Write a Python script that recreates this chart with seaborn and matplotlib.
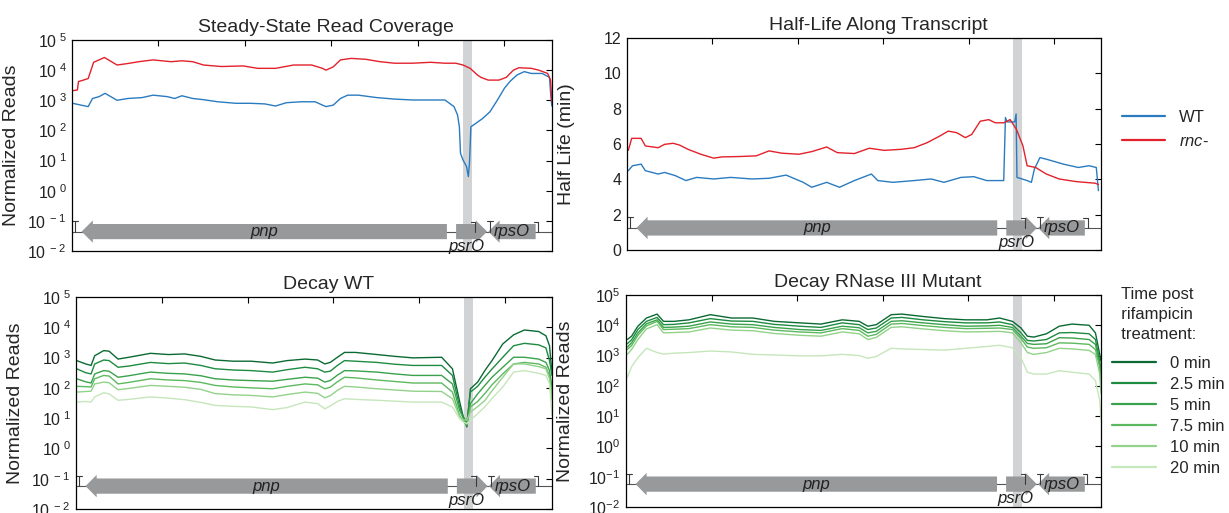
import numpy as np
import pandas as pd
import matplotlib
matplotlib.use("Agg")
import matplotlib.pyplot as plt
import matplotlib.transforms as mtrans
from matplotlib.patches import Polygon
from matplotlib.ticker import NullLocator
import seaborn as sns

sns.set_style("white")
plt.rcParams['font.family'] = ['Liberation Sans', 'DejaVu Sans']
plt.rcParams['mathtext.fontset'] = 'custom'
plt.rcParams['mathtext.rm'] = 'Liberation Sans'
plt.rcParams['mathtext.it'] = 'Liberation Sans:italic'
plt.rcParams['axes.edgecolor'] = 'black'
plt.rcParams['axes.linewidth'] = 0.9

# ---------------- data (positions in nt, reads as log10 values) ----------------
# Steady-state coverage
pos_cov_wt = [8, 104, 187, 237, 312, 383, 521, 646, 812, 937, 1104, 1187, 1271, 1396, 1521, 1687,
              1896, 2062, 2229, 2354, 2479, 2646, 2812, 2896, 2937, 3021, 3104, 3187, 3312, 3521,
              3729, 3937, 4146, 4312, 4417, 4458, 4479, 4492, 4521, 4562, 4583, 4596, 4612, 4667,
              4750, 4833, 4917, 5000, 5062, 5146, 5229, 5312, 5437, 5521, 5537, 5548]
cov_wt_log = [2.90, 2.84, 2.79, 3.06, 3.12, 3.23, 3.00, 3.06, 3.09, 3.17, 3.12, 3.06, 3.15, 3.06, 3.02, 2.95,
              2.90, 2.90, 2.88, 2.81, 2.92, 2.95, 2.95, 2.84, 2.79, 2.84, 3.06, 3.17, 3.17, 3.09,
              3.04, 3.01, 3.01, 3.01, 2.79, 2.51, 2.12, 1.24, 1.02, 0.80, 0.47, 0.92, 2.12, 2.23,
              2.40, 2.62, 3.00, 3.40, 3.62, 3.84, 3.95, 3.89, 3.89, 3.76, 3.12, 2.81]
pos_cov_rnc = [8, 62, 75, 187, 250, 375, 521, 646, 771, 937, 1146, 1271, 1396, 1521, 1729, 1979,
               2146, 2354, 2562, 2771, 2896, 2937, 3021, 3104, 3229, 3396, 3562, 3729, 3937, 4146,
               4312, 4437, 4521, 4604, 4687, 4729, 4812, 4937, 5021, 5104, 5167, 5312, 5396, 5500,
               5533, 5548]
cov_rnc_log = [3.32, 3.34, 3.62, 3.72, 4.26, 4.42, 4.17, 4.22, 4.28, 4.34, 4.28, 4.31, 4.28, 4.17, 4.12, 4.14,
               4.06, 4.06, 4.17, 4.17, 4.06, 4.00, 4.11, 4.34, 4.39, 4.36, 4.28, 4.23, 4.23, 4.26,
               4.23, 4.23, 4.17, 4.06, 3.84, 3.76, 3.67, 3.67, 3.76, 4.00, 4.08, 4.06, 4.00, 3.89,
               3.67, 2.95]

# Half-life along transcript (min)
pos_hl_wt = [15, 65, 165, 215, 365, 440, 565, 690, 814, 1014, 1214, 1463, 1663, 1863, 2063, 2163,
             2338, 2488, 2662, 2862, 2937, 3112, 3362, 3562, 3711, 3911, 4061, 4211, 4411, 4431,
             4450, 4540, 4556, 4566, 4685, 4735, 4770, 4835, 4910, 5110, 5285, 5410, 5495, 5520]
hl_wt = [4.49, 4.77, 4.86, 4.49, 4.30, 4.39, 4.21, 3.93, 4.11, 4.02, 4.11, 4.02, 4.06, 4.24, 3.83, 3.55,
         3.83, 3.55, 3.93, 4.30, 3.93, 3.83, 3.93, 4.02, 3.83, 4.11, 4.15, 3.93, 3.93, 7.50,
         7.25, 7.25, 7.70, 4.11, 3.93, 3.83, 4.58, 5.23, 5.14, 4.86, 4.67, 4.77, 4.67, 3.36]
pos_hl_rnc = [15, 55, 165, 215, 365, 440, 540, 615, 714, 864, 1014, 1114, 1314, 1514, 1663, 1813,
              2013, 2163, 2338, 2463, 2662, 2837, 3012, 3212, 3362, 3512, 3662, 3761, 3861, 3961,
              4036, 4136, 4236, 4311, 4411, 4486, 4561, 4636, 4685, 4785, 4910, 5060, 5260, 5485, 5520]
hl_rnc = [5.64, 6.32, 6.32, 5.89, 5.79, 5.98, 6.04, 5.94, 5.70, 5.42, 5.20, 5.27, 5.29, 5.33, 5.61, 5.48,
          5.42, 5.57, 5.83, 5.51, 5.46, 5.76, 5.64, 5.70, 5.79, 6.07, 6.45, 6.73, 6.64, 6.36,
          6.54, 7.29, 7.38, 7.20, 7.20, 7.38, 6.82, 5.89, 4.77, 4.67, 4.30, 4.02, 3.87, 3.78, 3.70]

# Decay WT (log10 normalized reads per time point)
pos_decay_wt = [8, 113, 176, 218, 323, 386, 490, 616, 868, 1077, 1266, 1455, 1622, 1832, 2042, 2293,
                2461, 2670, 2817, 2901, 2964, 3048, 3131, 3257, 3509, 3718, 3928, 4263, 4389, 4473,
                4515, 4557, 4599, 4683, 4767, 4850, 4976, 5102, 5228, 5395, 5479, 5521, 5550]
wt_0min = [2.90, 2.79, 2.74, 3.06, 3.23, 3.21, 2.95, 3.01, 3.14, 3.10, 3.12, 3.04, 2.92, 2.88, 2.88, 2.82,
           2.90, 2.95, 2.92, 2.79, 2.84, 3.01, 3.17, 3.17, 3.10, 3.04, 2.99, 3.01, 2.63, 1.55,
           1.04, 0.71, 1.97, 2.19, 2.57, 2.90, 3.45, 3.75, 3.91, 3.86, 3.72, 3.39, 2.46]
wt_2_5min = [2.63, 2.50, 2.46, 2.79, 2.92, 2.90, 2.68, 2.72, 2.84, 2.80, 2.82, 2.74, 2.63, 2.59, 2.57, 2.52,
             2.60, 2.68, 2.63, 2.52, 2.55, 2.74, 2.90, 2.88, 2.84, 2.78, 2.74, 2.74, 2.41, 1.37,
             1.05, 0.85, 1.86, 2.05, 2.35, 2.62, 3.01, 3.39, 3.47, 3.42, 3.32, 2.90, 2.41]
wt_5min = [2.30, 2.20, 2.16, 2.46, 2.57, 2.55, 2.35, 2.40, 2.52, 2.48, 2.46, 2.40, 2.30, 2.26, 2.24, 2.22,
           2.28, 2.35, 2.32, 2.19, 2.24, 2.42, 2.57, 2.56, 2.52, 2.46, 2.41, 2.41, 2.13, 1.26,
           1.00, 0.82, 1.48, 1.80, 2.08, 2.35, 2.68, 3.01, 3.01, 2.95, 2.84, 2.57, 2.02]
wt_7_5min = [2.05, 2.04, 2.03, 2.30, 2.41, 2.39, 2.13, 2.18, 2.30, 2.26, 2.24, 2.18, 2.08, 2.03, 2.00, 1.97,
             2.05, 2.13, 2.10, 1.97, 2.02, 2.20, 2.35, 2.33, 2.26, 2.21, 2.16, 2.16, 1.86, 1.09,
             0.90, 0.77, 1.37, 1.55, 1.81, 2.10, 2.46, 2.79, 2.84, 2.79, 2.68, 2.41, 1.81]
wt_10min = [1.86, 1.88, 1.89, 2.13, 2.19, 2.17, 1.94, 1.98, 2.08, 2.05, 2.02, 1.95, 1.81, 1.77, 1.75, 1.70,
            1.78, 1.86, 1.82, 1.67, 1.74, 1.92, 2.05, 2.03, 1.97, 1.93, 1.89, 1.88, 1.64, 1.04,
            0.95, 0.93, 1.20, 1.38, 1.58, 1.90, 2.35, 2.79, 2.79, 2.70, 2.63, 2.30, 1.59]
wt_20min = [1.53, 1.55, 1.53, 1.70, 1.84, 1.80, 1.59, 1.62, 1.70, 1.66, 1.61, 1.52, 1.42, 1.39, 1.37, 1.28,
            1.35, 1.53, 1.48, 1.31, 1.40, 1.55, 1.64, 1.62, 1.59, 1.56, 1.53, 1.53, 1.37, 0.98,
            0.88, 0.82, 0.93, 1.15, 1.37, 1.65, 2.03, 2.52, 2.57, 2.48, 2.41, 2.13, 1.09]

# Decay RNase III mutant
pos_decay_rnc = [15, 65, 139, 239, 363, 438, 562, 736, 985, 1233, 1482, 1731, 2029, 2278, 2526, 2725,
                 2825, 2924, 3098, 3223, 3471, 3720, 3969, 4217, 4366, 4515, 4615, 4690, 4764, 4913,
                 5063, 5212, 5411, 5485, 5535, 5550]
rnc_0min = [3.53, 3.64, 3.97, 4.24, 4.37, 4.13, 4.13, 4.18, 4.35, 4.24, 4.24, 4.13, 4.08, 4.04, 4.18, 4.13,
            3.97, 4.02, 4.35, 4.37, 4.29, 4.22, 4.18, 4.18, 4.24, 4.13, 3.91, 3.64, 3.61, 3.72,
            3.97, 4.04, 4.00, 3.75, 3.04, 2.82]
rnc_2_5min = [3.39, 3.52, 3.86, 4.13, 4.26, 4.02, 4.03, 4.08, 4.22, 4.14, 4.13, 4.03, 3.97, 3.93, 4.08, 4.02,
              3.86, 3.91, 4.24, 4.26, 4.18, 4.12, 4.08, 4.08, 4.11, 4.02, 3.75, 3.50, 3.48, 3.53,
              3.75, 3.76, 3.72, 3.53, 2.82, 2.50]
rnc_5min = [3.28, 3.42, 3.75, 4.05, 4.18, 3.93, 3.94, 3.97, 4.11, 4.04, 4.02, 3.93, 3.86, 3.83, 3.97, 3.92,
            3.75, 3.80, 4.13, 4.15, 4.08, 4.02, 3.97, 3.98, 4.00, 3.93, 3.64, 3.40, 3.37, 3.39,
            3.59, 3.58, 3.53, 3.37, 2.71, 2.28]
rnc_7_5min = [3.20, 3.33, 3.67, 3.98, 4.13, 3.86, 3.87, 3.89, 4.02, 3.95, 3.93, 3.84, 3.78, 3.75, 3.89, 3.83,
              3.64, 3.70, 4.04, 4.06, 3.99, 3.93, 3.89, 3.90, 3.91, 3.86, 3.56, 3.28, 3.24, 3.26,
              3.42, 3.41, 3.37, 3.20, 2.61, 2.12]
rnc_10min = [3.04, 3.20, 3.53, 3.88, 4.02, 3.75, 3.76, 3.78, 3.91, 3.84, 3.82, 3.73, 3.67, 3.64, 3.78, 3.72,
             3.53, 3.60, 3.93, 3.95, 3.88, 3.82, 3.78, 3.79, 3.80, 3.75, 3.42, 3.10, 3.04, 3.10,
             3.24, 3.22, 3.17, 3.04, 2.39, 1.74]
rnc_20min = [2.28, 2.63, 2.93, 3.24, 3.10, 3.05, 3.08, 3.10, 3.15, 3.12, 3.04, 3.02, 2.99, 2.99, 3.04, 3.00,
             2.91, 2.97, 3.24, 3.22, 3.20, 3.18, 3.24, 3.30, 3.34, 3.26, 2.93, 2.45, 2.39, 2.39,
             2.50, 2.45, 2.39, 2.17, 1.52, 0.87]

time_labels = ['0 min', '2.5 min', '5 min', '7.5 min', '10 min', '20 min']
green_colors = ['#0b6a33', '#1d8b40', '#3aa24c', '#5db95f', '#93d28a', '#c6e6bc']
strain_labels = ['WT', r'$\mathit{rnc}$-']
strain_colors = ['#2a7bbf', '#e3212b']

# gene annotation
gene_names = ['pnp', 'psrO', 'rpsO']
gene_left = [111, 4441, 4814]
gene_right = [4335, 4800, 5361]
gene_strand = ['-', '+', '-']
terminator_pos = [35, 4835]
promoter_pos = [4660, 5392]
cleavage_region = (4520, 4625)
x_limits = (0, 5550)
x_ticks = [1000, 2000, 3000, 4000, 5000]

# ---------------- figure ----------------
W, H = 1229, 513
fig = plt.figure(figsize=(W / 100, H / 100), dpi=100)


def ax_at(x0, y0, x1, y1):
    return fig.add_axes([x0 / W, 1 - y1 / H, (x1 - x0) / W, (y1 - y0) / H])


ax_tl = ax_at(72, 40, 552, 251)
ax_tr = ax_at(627, 38, 1101, 250)
ax_bl = ax_at(76, 297, 552, 509)
ax_br = ax_at(626, 295, 1101, 507)

GENE_GRAY = '#98999b'
MARK = '#3a3a3a'


def draw_genes(ax, c=0.10):
    tr = mtrans.blended_transform_factory(ax.transData, ax.transAxes)
    hb, hh, hl = 0.036, 0.053, 130
    ax.plot([x_limits[0], x_limits[1]], [c, c], transform=tr, color='#555555', lw=0.8, zorder=1)
    for name, l, r, s in zip(gene_names, gene_left, gene_right, gene_strand):
        if s == '-':
            pts = [(l, c), (l + hl, c + hh), (l + hl, c + hb), (r, c + hb), (r, c - hb),
                   (l + hl, c - hb), (l + hl, c - hh)]
        else:
            pts = [(r, c), (r - hl, c + hh), (r - hl, c + hb), (l, c + hb), (l, c - hb),
                   (r - hl, c - hb), (r - hl, c - hh)]
        ax.add_patch(Polygon(pts, closed=True, transform=tr, facecolor=GENE_GRAY,
                             edgecolor='none', zorder=1.5))
        if name == 'psrO':
            ax.text((l + r - hl) / 2, c - 0.07, name, transform=tr, ha='center', va='center',
                    style='italic', fontsize=12, color='#222222', zorder=3)
        else:
            ax.text((l + r) / 2, c, name, transform=tr, ha='center', va='center',
                    style='italic', fontsize=12, color='#222222', zorder=3)
    for t in terminator_pos:
        ax.plot([t, t], [c, c + 0.05], transform=tr, color=MARK, lw=0.8, zorder=2)
        ax.plot([t - 35, t + 35], [c + 0.05, c + 0.05], transform=tr, color=MARK, lw=0.8, zorder=2)
    for p in promoter_pos:
        ax.plot([p - 50, p, p], [c + 0.047, c + 0.047, c], transform=tr, color=MARK, lw=0.8, zorder=2)


def style_axis(ax, log, exps_fmt=None, c=0.10):
    ax.set_xlim(*x_limits)
    ax.set_xticks(x_ticks)
    ax.set_xticklabels([])
    ax.set_xlabel('')
    ax.axvspan(*cleavage_region, color='#d2d3d5', lw=0, zorder=0.5)
    if log:
        ax.set_yscale('log')
        ax.set_ylim(1e-2, 1e5)
        exps = list(range(-2, 6))
        ax.set_yticks([10.0 ** e for e in exps])
        ax.set_yticklabels([exps_fmt % e for e in exps])
        ax.yaxis.set_minor_locator(NullLocator())
        ax.set_ylabel('Normalized Reads', fontsize=14)
    ax.tick_params(axis='both', which='major', direction='in', top=True, right=True,
                   length=4, width=0.8, labelsize=11.5, pad=4, colors='black')
    ax.tick_params(axis='y', labelcolor='#222222')
    ax.yaxis.set_label_coords(-52 / (ax.get_position().width * W), 0.5)
    for sp in ax.spines.values():
        sp.set_visible(True)
        sp.set_color('black')
        sp.set_linewidth(0.9)
    draw_genes(ax, c)


# Steady-state coverage
ax_tl.set_yscale('log')
sns.lineplot(x=pos_cov_wt, y=10 ** np.array(cov_wt_log), ax=ax_tl, color=strain_colors[0],
             linewidth=1.0, estimator=None, zorder=2)
sns.lineplot(x=pos_cov_rnc, y=10 ** np.array(cov_rnc_log), ax=ax_tl, color=strain_colors[1],
             linewidth=1.0, estimator=None, zorder=2)
style_axis(ax_tl, True, r'$\mathregular{10^{\ %d}}$', c=0.092)
ax_tl.set_title('Steady-State Read Coverage', fontsize=14, pad=6, x=0.53)

# Half-life
sns.lineplot(x=pos_hl_wt, y=hl_wt, ax=ax_tr, color=strain_colors[0], linewidth=1.0,
             estimator=None, label=strain_labels[0], legend=False, zorder=2)
sns.lineplot(x=pos_hl_rnc, y=hl_rnc, ax=ax_tr, color=strain_colors[1], linewidth=1.0,
             estimator=None, label=strain_labels[1], legend=False, zorder=2)
ax_tr.set_ylim(0, 12)
ax_tr.set_yticks([0, 2, 4, 6, 8, 10, 12])
ax_tr.set_ylabel('Half Life (min)', fontsize=14)
style_axis(ax_tr, False, c=0.104)
ax_tr.set_title('Half-Life Along Transcript', fontsize=14, pad=6, x=0.53)

# Decay WT
ax_bl.set_yscale('log')
for lab, col, vals in zip(time_labels, green_colors,
                          [wt_0min, wt_2_5min, wt_5min, wt_7_5min, wt_10min, wt_20min]):
    sns.lineplot(x=pos_decay_wt, y=10 ** np.array(vals), ax=ax_bl, color=col, linewidth=1.0,
                 estimator=None, zorder=2)
style_axis(ax_bl, True, r'$\mathregular{10^{\ %d}}$', c=0.108)
ax_bl.set_title('Decay WT', fontsize=14, pad=6, x=0.53)

# Decay RNase III mutant
ax_br.set_yscale('log')
for lab, col, vals in zip(time_labels, green_colors,
                          [rnc_0min, rnc_2_5min, rnc_5min, rnc_7_5min, rnc_10min, rnc_20min]):
    sns.lineplot(x=pos_decay_rnc, y=10 ** np.array(vals), ax=ax_br, color=col, linewidth=1.0,
                 estimator=None, label=lab, legend=False, zorder=2)
style_axis(ax_br, True, r'$\mathregular{10^{%d}}$', c=0.108)
ax_br.set_title('Decay RNase III Mutant', fontsize=14, pad=6, x=0.53)

# legends
h, l = ax_tr.get_legend_handles_labels()
leg1 = fig.legend(h, l, loc='center left', bbox_to_anchor=(1122 / W, 1 - 129.5 / H),
                  frameon=False, fontsize=12, handlelength=2.6, handletextpad=0.8,
                  labelspacing=0.55, borderpad=0, borderaxespad=0)
for line in leg1.get_lines():
    line.set_linewidth(1.6)

h, l = ax_br.get_legend_handles_labels()
leg2 = fig.legend(h, l, loc='upper left', bbox_to_anchor=(1079 / W, 1 - 254 / H),
                  title='  Time post\n  rifampicin\n  treatment:', title_fontsize=12,
                  alignment='left', frameon=False, fontsize=12, handlelength=2.64,
                  handletextpad=0.85, labelspacing=0.36, borderpad=2.0, borderaxespad=0)
leg2.get_title().set_linespacing(1.4)
leg2._legend_box.sep = 0.36 * 12 * 100 / 72 + 4
for line in leg2.get_lines():
    line.set_linewidth(1.6)

fig.savefig('out.png', dpi=100)
